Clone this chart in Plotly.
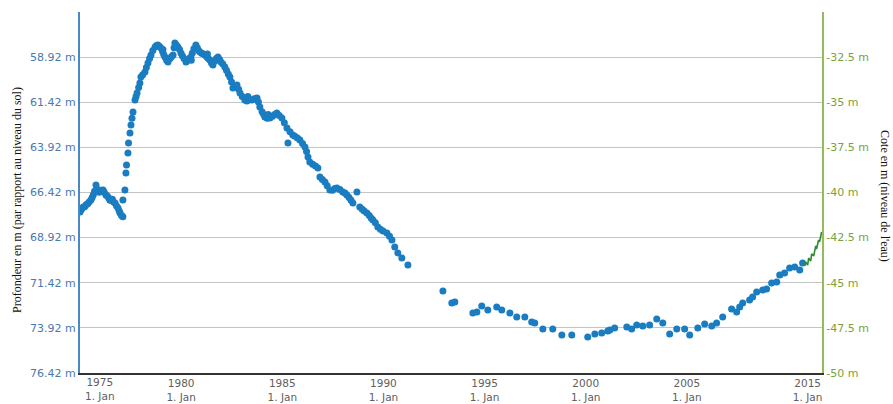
import plotly.graph_objects as go

# ---- Data ----
# Depth below ground (m), left axis (reversed); dates as decimal years
depth_dates = [
    1975.00, 1975.05, 1975.10, 1975.16, 1975.23, 1975.30, 1975.38, 1975.45, 1975.54, 1975.60,
    1975.66, 1975.72, 1975.79, 1975.84, 1975.89, 1975.95, 1976.02, 1976.08, 1976.14, 1976.20,
    1976.28, 1976.35, 1976.42, 1976.48, 1976.53, 1976.60, 1976.66, 1976.73, 1976.80, 1976.88,
    1976.94, 1976.98, 1977.05, 1977.12, 1977.12, 1977.22, 1977.27, 1977.30, 1977.37, 1977.40,
    1977.47, 1977.52, 1977.57, 1977.62, 1977.72, 1977.77, 1977.82, 1977.90, 1977.96, 1978.01,
    1978.10, 1978.21, 1978.28, 1978.36, 1978.44, 1978.51, 1978.60, 1978.71, 1978.78, 1978.85,
    1978.92, 1979.00, 1979.08, 1979.10, 1979.14, 1979.20, 1979.28, 1979.35, 1979.45, 1979.52,
    1979.60, 1979.65, 1979.69, 1979.76, 1979.84, 1979.92, 1979.99, 1980.06, 1980.14, 1980.24,
    1980.32, 1980.40, 1980.48, 1980.50, 1980.55, 1980.63, 1980.73, 1980.80, 1980.86, 1980.93,
    1981.02, 1981.10, 1981.18, 1981.26, 1981.30, 1981.34, 1981.42, 1981.50, 1981.57, 1981.66,
    1981.74, 1981.82, 1981.90, 1981.97, 1982.06, 1982.16, 1982.24, 1982.33, 1982.41, 1982.49,
    1982.56, 1982.66, 1982.76, 1982.84, 1982.91, 1983.02, 1983.15, 1983.25, 1983.30, 1983.38,
    1983.50, 1983.62, 1983.75, 1983.82, 1983.89, 1984.00, 1984.08, 1984.14, 1984.25, 1984.30,
    1984.39, 1984.52, 1984.62, 1984.73, 1984.85, 1984.98, 1985.10, 1985.23, 1985.28, 1985.38,
    1985.52, 1985.62, 1985.75, 1985.87, 1986.00, 1986.12, 1986.20, 1986.27, 1986.36, 1986.50,
    1986.64, 1986.76, 1986.86, 1986.98, 1987.11, 1987.22, 1987.35, 1987.48, 1987.60, 1987.70,
    1987.85, 1987.99, 1988.10, 1988.19, 1988.30, 1988.40, 1988.49, 1988.69, 1988.83, 1988.95,
    1989.05, 1989.18, 1989.30, 1989.40, 1989.48, 1989.60, 1989.72, 1989.85, 1989.98, 1990.17,
    1990.30, 1990.42, 1990.56, 1990.71, 1990.91, 1991.21,
    1992.94, 1993.38, 1993.53, 1994.42, 1994.62, 1994.86, 1995.16, 1995.60, 1995.85, 1996.25,
    1996.59, 1996.99, 1997.33, 1997.48, 1997.88, 1998.37, 1998.82, 1999.31, 2000.10, 2000.45,
    2000.79, 2001.09, 2001.19, 2001.43, 2002.03, 2002.27, 2002.52, 2002.82, 2003.16, 2003.51,
    2003.81, 2004.15, 2004.50, 2004.89, 2005.14, 2005.54, 2005.88, 2006.23, 2006.47, 2006.77,
    2007.21, 2007.46, 2007.61, 2007.76, 2008.10, 2008.25, 2008.45, 2008.75, 2008.94, 2009.19,
    2009.44, 2009.59, 2009.83, 2010.08, 2010.33, 2010.58, 2010.72,
]
depth_m = [
    67.50, 67.38, 67.30, 67.22, 67.21, 67.10, 67.05, 66.95, 66.83, 66.70,
    66.55, 66.35, 66.00, 66.22, 66.28, 66.40, 66.35, 66.30, 66.28, 66.40,
    66.56, 66.62, 66.72, 66.85, 66.83, 66.80, 66.95, 67.00, 67.15, 67.28,
    67.45, 67.56, 67.70, 67.76, 66.83, 66.28, 65.34, 64.90, 64.23, 63.68,
    63.12, 62.68, 62.30, 61.96, 61.30, 61.10, 60.91, 60.60, 60.35, 60.02,
    59.90, 59.74, 59.50, 59.25, 59.00, 58.80, 58.55, 58.36, 58.28, 58.25,
    58.32, 58.41, 58.60, 58.50, 58.78, 58.91, 59.10, 59.19, 59.00, 58.90,
    58.80, 58.40, 58.14, 58.25, 58.36, 58.50, 58.69, 58.85, 59.00, 59.19,
    59.10, 59.00, 58.91, 59.10, 58.70, 58.45, 58.25, 58.40, 58.55, 58.64,
    58.70, 58.75, 58.80, 58.90, 58.75, 59.00, 59.08, 59.25, 59.36, 59.15,
    59.00, 58.91, 59.05, 59.19, 59.30, 59.47, 59.65, 59.85, 60.02, 60.30,
    60.63, 60.55, 60.46, 60.70, 60.91, 61.10, 61.30, 61.35, 61.10, 61.28,
    61.30, 61.22, 61.18, 61.40, 61.68, 61.95, 62.10, 62.24, 62.30, 62.10,
    62.29, 62.20, 62.10, 62.02, 62.15, 62.29, 62.55, 62.85, 63.68, 63.05,
    63.23, 63.30, 63.40, 63.51, 63.70, 63.90, 64.15, 64.45, 64.73, 64.85,
    64.95, 65.06, 65.56, 65.70, 65.84, 66.05, 66.28, 66.30, 66.20, 66.17,
    66.25, 66.39, 66.45, 66.56, 66.70, 66.85, 67.00, 66.39, 67.22, 67.35,
    67.45, 67.56, 67.70, 67.85, 67.94, 68.10, 68.33, 68.45, 68.55, 68.66,
    68.85, 69.05, 69.44, 69.77, 70.05, 70.44,
    71.88, 72.54, 72.49, 73.09, 73.04, 72.71, 72.93, 72.76, 72.93, 73.09,
    73.32, 73.32, 73.59, 73.65, 73.98, 73.98, 74.31, 74.31, 74.42, 74.26,
    74.20, 74.09, 74.04, 73.93, 73.87, 73.98, 73.76, 73.82, 73.76, 73.43,
    73.65, 74.26, 73.98, 73.98, 74.31, 73.93, 73.70, 73.82, 73.65, 73.32,
    72.87, 73.04, 72.76, 72.54, 72.38, 72.21, 71.93, 71.82, 71.77, 71.43,
    71.38, 70.99, 70.88, 70.60, 70.55, 70.71, 70.33,
]

# Water level (m), right axis
cote_dates = [2010.82, 2010.87, 2010.97, 2011.02, 2011.12, 2011.17, 2011.27,
              2011.37, 2011.41, 2011.51, 2011.56, 2011.66]
cote_m = [-44.07, -43.85, -44.02, -43.63, -43.80, -43.40, -43.51,
          -42.96, -43.13, -42.63, -42.74, -42.19]

depth_ticks = [58.92, 61.42, 63.92, 66.42, 68.92, 71.42, 73.92, 76.42]
cote_ticks = [-32.5, -35, -37.5, -40, -42.5, -45, -47.5, -50]
year_labels = ["1980", "1985", "1990", "1995", "2000", "2005", "2015"]
first_year_label = "1975"

# ---- Figure ----
BLUE = "#1a7cc1"
GREEN = "#2e8b2e"
tick_font = dict(family="DejaVu Sans", size=11)
xlab_font = dict(family="DejaVu Sans", size=10.5, color="#606060")

fig = go.Figure()
fig.add_trace(go.Scatter(
    x=depth_dates, y=depth_m, mode="markers",
    marker=dict(size=7, color=BLUE, line=dict(width=0)),
    yaxis="y", showlegend=False,
))
fig.add_trace(go.Scatter(
    x=cote_dates, y=cote_m, mode="lines",
    line=dict(color=GREEN, width=1.6),
    yaxis="y2", showlegend=False,
))

fig.update_layout(
    width=893, height=404,
    margin=dict(l=80, r=71, t=12, b=31, autoexpand=False),
    paper_bgcolor="white", plot_bgcolor="white",
    xaxis=dict(
        range=[1975, 2011.68], automargin=False,
        tickvals=[1980, 1985, 1990, 1995, 2000, 2005, 2010.97],
        ticktext=[f"{t}<br>1. Jan" for t in year_labels],
        tickfont=xlab_font,
        showgrid=False, zeroline=False,
        showline=True, linecolor="#333333", linewidth=1.5,
        ticks="",
    ),
    yaxis=dict(
        range=[76.42, 56.42], automargin=False,
        tickvals=depth_ticks,
        ticktext=[f"{v:.2f} m" for v in depth_ticks],
        tickfont=dict(color="#4a78b0", **tick_font),
        showgrid=True, gridcolor="#c4c4c4", gridwidth=1.2,
        zeroline=False,
        showline=True, linecolor="#4a88c4", linewidth=2,
    ),
    yaxis2=dict(
        range=[-50, -30], overlaying="y", side="right", automargin=False,
        tickvals=cote_ticks,
        ticktext=[f"{v:g} m" for v in cote_ticks],
        tickfont=dict(color="#7aa23a", **tick_font),
        showgrid=False, zeroline=False,
        showline=True, linecolor="#93bd5c", linewidth=2,
    ),
    annotations=[
        dict(text="Profondeur en m (par rapport au niveau du sol)",
             xref="paper", yref="paper", x=-0.085, y=0.479,
             xanchor="center", yanchor="middle",
             textangle=-90, showarrow=False,
             font=dict(family="Liberation Serif", size=12, color="#111111")),
        dict(text="Cote en m (niveau de l'eau)",
             xref="paper", yref="paper", x=1.085, y=0.49,
             xanchor="center", yanchor="middle",
             textangle=90, showarrow=False,
             font=dict(family="Liberation Serif", size=12, color="#111111")),
        dict(text=f"{first_year_label}<br>1. Jan",
             xref="x", yref="paper", x=1975, y=0,
             xanchor="left", yanchor="top", xshift=3, yshift=-1,
             showarrow=False, align="center",
             font=xlab_font),
    ],
)

fig.write_html(
    "out.html",
    config={"displayModeBar": False},
    post_script="document.body.style.margin='0';document.body.style.overflow='hidden';",
)
